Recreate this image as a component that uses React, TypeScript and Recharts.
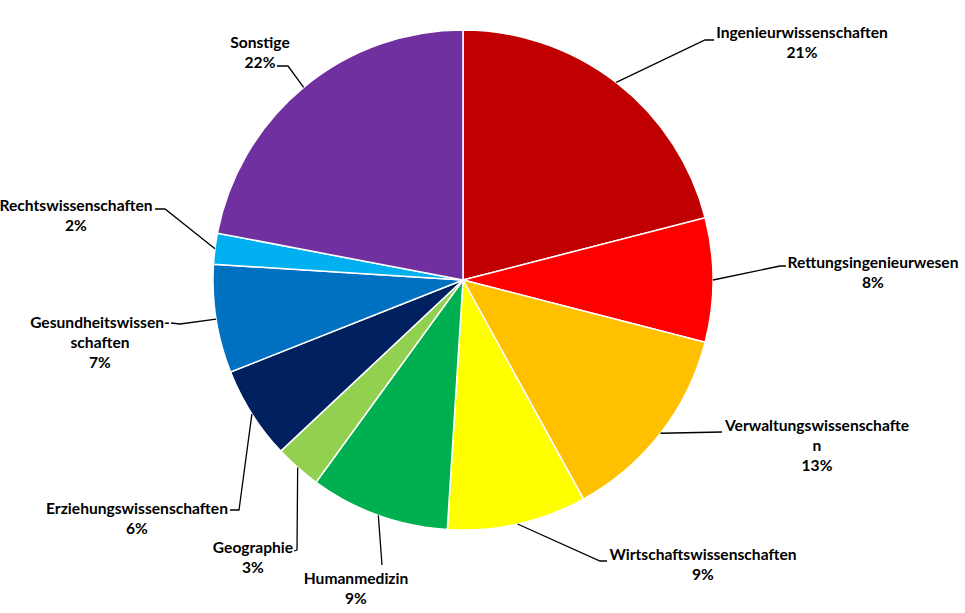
import { PieChart, Pie, Cell } from 'recharts'

// Verteilung der Studierenden nach Fachrichtung (Anteile in %)
const categories = [
  'Ingenieurwissenschaften',
  'Rettungsingenieurwesen',
  'Verwaltungswissenschaften',
  'Wirtschaftswissenschaften',
  'Humanmedizin',
  'Geographie',
  'Erziehungswissenschaften',
  'Gesundheitswissenschaften',
  'Rechtswissenschaften',
  'Sonstige',
]
const shares = [21, 8, 13, 9, 9, 3, 6, 7, 2, 22]
const colors = [
  '#C00000',
  '#FF0000',
  '#FFC000',
  '#FFFF00',
  '#00B050',
  '#92D050',
  '#002060',
  '#0070C0',
  '#00B0F0',
  '#7030A0',
]

const chartData = categories.map((name, i) => ({ name, value: shares[i] }))

// label placement relative to the pie centre: text centre (tx), first line (ty),
// leader elbow (ex, ey) and leader end (hx, hy); optional line break in the name
type LabelSpot = {
  tx: number
  ty: number
  ex: number
  ey: number
  hx: number
  hy: number
  breakAt?: number
  hyphen?: boolean
}

const labelSpots: LabelSpot[] = [
  { tx: 339, ty: -248, ex: 242, ey: -240, hx: 251, hy: -240 },
  { tx: 410, ty: -18, ex: 317, ey: -14, hx: 323, hy: -14 },
  { tx: 354, ty: 145, ex: 259, ey: 152, hx: 259, hy: 152, breakAt: 24 },
  { tx: 240, ty: 274, ex: 137, ey: 281, hx: 144, hy: 281 },
  { tx: -107, ty: 298, ex: -81, ey: 285, hx: -81, hy: 285 },
  { tx: -210, ty: 267, ex: -166, ey: 270, hx: -169, hy: 271 },
  { tx: -326, ty: 228, ex: -224, ey: 230, hx: -233, hy: 230 },
  { tx: -363, ty: 42, ex: -283, ey: 44, hx: -292, hy: 43, breakAt: 17, hyphen: true },
  { tx: -387, ty: -75, ex: -298, ey: -71, hx: -308, hy: -71 },
  { tx: -203, ty: -238, ex: -175, ey: -214, hx: -186, hy: -214 },
]

const RADIAN = Math.PI / 180
const LINE_GAP = 20

function renderLabel(props: any) {
  const { cx, cy, midAngle, outerRadius, index, name, value } = props
  const spot = labelSpots[index]
  const sx = cx + outerRadius * Math.cos(-midAngle * RADIAN)
  const sy = cy + outerRadius * Math.sin(-midAngle * RADIAN)

  let lines: string[] = [name]
  if (spot.breakAt) {
    lines = [name.slice(0, spot.breakAt) + (spot.hyphen ? '-' : ''), name.slice(spot.breakAt)]
  }
  lines.push(`${value}%`)

  return (
    <g>
      <polyline
        points={`${sx},${sy} ${cx + spot.ex},${cy + spot.ey} ${cx + spot.hx},${cy + spot.hy}`}
        fill="none"
        stroke="#000"
        strokeWidth={1.3}
      />
      {lines.map((line, j) => (
        <text
          key={j}
          x={cx + spot.tx}
          y={cy + spot.ty + j * LINE_GAP}
          textAnchor="middle"
          dominantBaseline="central"
          fill="#000"
          style={{ fontFamily: 'Lato, "Open Sans", sans-serif', fontWeight: 700, fontSize: 15.6 }}
        >
          {line}
        </text>
      ))}
    </g>
  )
}

export default function App() {
  return (
    <div style={{ position: 'absolute', left: 0, top: 0, width: 965, height: 613, background: '#fff' }}>
      <PieChart width={965} height={613} margin={{ top: 0, right: 0, bottom: 0, left: 0 }}>
        <Pie
          data={chartData}
          dataKey="value"
          nameKey="name"
          cx={463}
          cy={280}
          outerRadius={250}
          startAngle={90}
          endAngle={-270}
          stroke="#fff"
          strokeWidth={1.5}
          label={renderLabel}
          labelLine={false}
          isAnimationActive={false}
        >
          {chartData.map((entry, i) => (
            <Cell key={entry.name} fill={colors[i]} />
          ))}
        </Pie>
      </PieChart>
    </div>
  )
}
